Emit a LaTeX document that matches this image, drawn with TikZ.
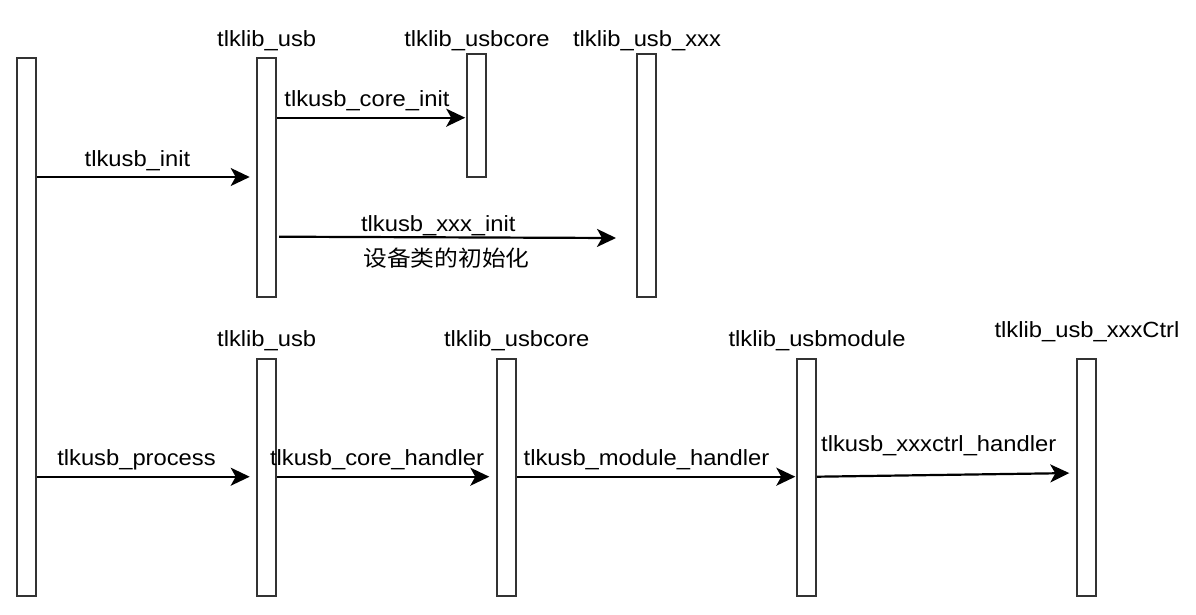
\documentclass[tikz,border=0pt]{standalone}
\usepackage{fontspec}
\setmainfont{Liberation Sans}[FakeStretch=1.08]
\newfontfamily\cjk{Noto Sans CJK SC}[FakeStretch=1.08]
\usetikzlibrary{arrows.meta}
\begin{document}
\begin{tikzpicture}[x=1pt,y=-1pt,
  bar/.style={draw=black!80, line width=2pt, fill=white, minimum width=19pt, inner sep=0pt, anchor=north},
  lbl/.style={inner sep=0pt, anchor=base, font=\fontsize{22}{26}\selectfont},
  msg/.style={line width=2.2pt, -{Stealth[length=19pt,width=18pt,inset=5pt]}}]
\fill[white] (0,0) rectangle (1196,614);
\useasboundingbox (0,0) rectangle (1196,614);
% lifelines
\node[bar, minimum height=538pt] (L)  at (26.3,57) {};
\node[bar, minimum height=239pt] (U1) at (266.7,57) {};
\node[bar, minimum height=123pt] (C1) at (476.7,53) {};
\node[bar, minimum height=243pt] (X1) at (646.3,53) {};
\node[bar, minimum height=237.5pt] (U2) at (266.7,357.7) {};
\node[bar, minimum height=237.5pt] (C2) at (506.3,357.7) {};
\node[bar, minimum height=237.5pt] (M2) at (806.3,357.7) {};
\node[bar, minimum height=237.5pt] (X2) at (1086.3,357.7) {};
% lifeline titles
\node[lbl] (tU1) at (266.7,46) {tlklib\_usb};
\node[lbl] (tC1) at (477,46) {tlklib\_usbcore};
\node[lbl] (tX1) at (647,46) {tlklib\_usb\_xxx};
\node[lbl] (tU2) at (266.7,346) {tlklib\_usb};
\node[lbl] (tC2) at (516.7,346) {tlklib\_usbcore};
\node[lbl] (tM2) at (817,346) {tlklib\_usbmodule};
\node[lbl] (tX2) at (1087,337) {tlklib\_usb\_xxxCtrl};
% messages
\draw[msg, shorten >=6.5pt] (L.east |- 0,177) -- (U1.west |- 0,177);
\node[lbl] (m1) at (137.5,166) {tlkusb\_init};
\draw[msg, shorten >=1pt] (U1.east |- 0,117.7) -- (C1.west |- 0,117.7);
\node[lbl] (m2) at (367,106) {tlkusb\_core\_init};
\coordinate (xe) at (616,238);
\draw[msg] ([xshift=2pt]U1.east |- 0,236.7) -- (xe);
\node[lbl] (m3) at (438.3,231.7) {tlkusb\_xxx\_init};
\node[lbl] (m3b) at (446.5,266) {\cjk 设备类的初始化};
\draw[msg, shorten >=6.5pt] (L.east |- 0,476.7) -- (U2.west |- 0,476.7);
\node[lbl] (m4) at (136.5,465) {tlkusb\_process};
\draw[msg, shorten >=6.5pt] (U2.east |- 0,476.7) -- (C2.west |- 0,476.7);
\node[lbl] (m5) at (377,465) {tlkusb\_core\_handler};
\draw[msg, shorten >=0.5pt] (C2.east |- 0,476.7) -- (M2.west |- 0,476.7);
\node[lbl] (m6) at (646.5,465) {tlkusb\_module\_handler};
\draw[msg, shorten >=6.5pt] (M2.east |- 0,476.7) -- (X2.west |- 0,473);
\node[lbl] (m7) at (938.7,451.7) {tlkusb\_xxxctrl\_handler};
\end{tikzpicture}
\end{document}
